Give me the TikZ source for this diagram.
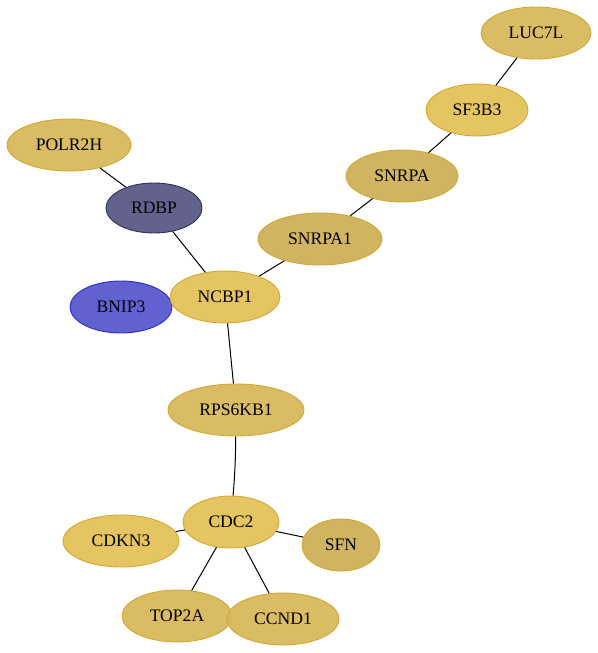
\documentclass[tikz,border=0pt]{standalone}
\usepackage{fontspec}
\setmainfont{Liberation Serif}
\usepackage{xcolor}
\usetikzlibrary{shapes.geometric}

\definecolor{goldA}{HTML}{D8B85C}
\definecolor{goldB}{HTML}{E4C259}
\definecolor{goldC}{HTML}{CFB05A}
\definecolor{goldEdge}{HTML}{D2A832}
\definecolor{slateFill}{HTML}{5A5A86}
\definecolor{slateEdge}{HTML}{2C2C5E}
\definecolor{blueFill}{HTML}{5858D0}
\definecolor{blueEdge}{HTML}{2E2EBE}

\begin{document}
\begin{tikzpicture}[x=1pt,y=-1pt,
  prot/.style={ellipse,draw=goldEdge,fill=goldA,fill opacity=0.95,text opacity=1,
    line width=0.9pt,inner sep=0pt,minimum height=52pt,
    font=\fontsize{17.6}{20}\selectfont},
  link/.style={draw=black,line width=1pt}]
\useasboundingbox (0,0) rectangle (597,653);
\node[prot,minimum width=110pt] (luc7l) at (536,33) {LUC7L};
\node[prot,minimum width=102pt,fill=goldB] (sf3b3) at (477,110) {SF3B3};
\node[prot,minimum width=112pt,fill=goldC] (snrpa) at (402,176) {SNRPA};
\node[prot,minimum width=124pt,fill=goldC] (snrpa1) at (320,239) {SNRPA1};
\node[prot,minimum width=124pt] (polr2h) at (69,145) {POLR2H};
\node[prot,minimum width=96pt,minimum height=50pt,fill=slateFill,draw=slateEdge] (rdbp) at (154,208) {RDBP};
\node[prot,minimum width=102pt,fill=blueFill,draw=blueEdge] (bnip3) at (121,307) {BNIP3};
\node[prot,minimum width=110pt,fill=goldB] (ncbp1) at (225,297) {NCBP1};
\node[prot,minimum width=136pt] (rps6kb1) at (236,410) {RPS6KB1};
\node[prot,minimum width=96pt,fill=goldB] (cdc2) at (231,522) {CDC2};
\node[prot,minimum width=116pt,fill=goldB] (cdkn3) at (121,541) {CDKN3};
\node[prot,minimum width=78pt,fill=goldC] (sfn) at (341,545) {SFN};
\node[prot,minimum width=110pt] (top2a) at (177,616) {TOP2A};
\node[prot,minimum width=112pt] (ccnd1) at (283,619) {CCND1};
\draw[link] (luc7l) -- (sf3b3);
\draw[link] (sf3b3) -- (snrpa);
\draw[link] (snrpa) -- (snrpa1);
\draw[link] (snrpa1) -- (ncbp1);
\draw[link] (polr2h) -- (rdbp);
\draw[link] (rdbp) -- (ncbp1);
\draw[link] (ncbp1) -- (rps6kb1);
\draw[link] (rps6kb1) to[bend left=2] (cdc2);
\draw[link] (cdc2) -- (cdkn3);
\draw[link] (cdc2) -- (sfn);
\draw[link] (cdc2) -- (top2a);
\draw[link] (cdc2) -- (ccnd1);
\end{tikzpicture}
\end{document}
